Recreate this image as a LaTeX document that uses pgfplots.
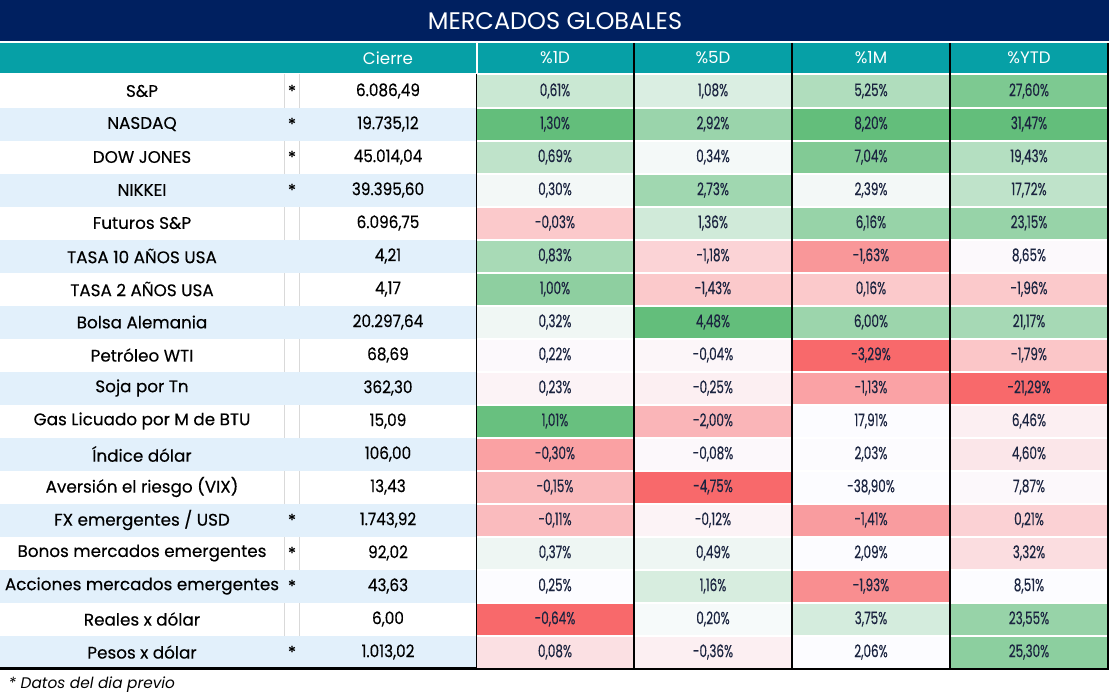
\documentclass[border=0pt]{standalone}
\usepackage{fontspec}
\setmainfont{Poppins}
\newfontfamily\pctfamily[FakeStretch=0.69, FakeBold=0.3]{Poppins}
\newfontfamily\narrowfamily[FakeStretch=0.88, FakeBold=0.3]{Poppins}
\newfontfamily\boldishfamily[FakeBold=0.3]{Poppins}
\usepackage{pgfplots}
\pgfplotsset{compat=1.18}
\usepackage{pgfplotstable}
\definecolor{navy}{HTML}{002060}
\definecolor{hdrteal}{HTML}{06A0A6}
\definecolor{rowblue}{HTML}{E2F0FB}
\definecolor{numcol}{HTML}{1B2440}
\definecolor{gridgray}{HTML}{D9D9D9}
\definecolor{hgreen}{HTML}{63BE7B}
\definecolor{hred}{HTML}{F8696B}
\definecolor{hwhite}{HTML}{FCFCFF}
\newcommand\pctfont{\pctfamily\fontsize{13}{15}\selectfont}
\newcommand\namefont{\boldishfamily\fontsize{12.6}{15}\selectfont}
\newcommand\cierrefont{\narrowfamily\fontsize{13}{15}\selectfont}
\newcommand\hdrfont{\fontsize{12.5}{14}\selectfont}
\def\stripminus-#1\relax{#1}
\pgfdeclareplotmark{hcell}{%
  \pgfmathfloatparsenumber{\cellshade}\pgfmathfloattofixed{\pgfmathresult}\let\sh=\pgfmathresult
  \ifdim\sh pt<0pt
    \edef\shabs{\expandafter\stripminus\sh\relax}%
    \colorlet{cellc}{hred!\shabs!hwhite}%
  \else
    \colorlet{cellc}{hgreen!\sh!hwhite}%
  \fi
  \pgfsetfillcolor{cellc}%
  \pgfpathrectangle{\pgfqpoint{-58.5pt}{-11.625pt}}{\pgfqpoint{117pt}{23.25pt}}\pgfusepathqfill}

% columns: name; close; %1D; shade1D; %5D; shade5D; %1M; shade1M; %YTD; shadeYTD
\pgfplotstableread[col sep=semicolon]{
name;c;d1;s1;d5;s5;m1;sm;ytd;sy
S\&P;6086.49;0.61;33;1.08;22;5.25;50;27.60;83
NASDAQ;19735.12;1.30;100;2.92;64;8.20;100;31.47;100
DOW JONES;45014.04;0.69;40;0.34;5;7.04;80;19.43;47
NIKKEI;39395.60;0.30;6;2.73;60;2.39;6;17.72;40
Futuros S\&P;6096.75;-0.03;-35;1.36;29;6.16;66;23.15;66
TASA 10 AÑOS USA;4.21;0.83;55;-1.18;-28;-1.63;-69;8.65;-2
TASA 2 AÑOS USA;4.17;1.00;72;-1.43;-35;0.16;-35;-1.96;-35
Bolsa Alemania;20297.64;0.32;8;4.48;100;6.00;63;21.17;56
Petróleo WTI;68.69;0.22;-2;-0.04;-4;-3.29;-100;-1.79;-37
Soja por Tn;362.30;0.23;-6;-0.25;-9;-1.13;-61;-21.29;-100
Gas Licuado por M de BTU;15.09;1.01;97;-2.00;-48;17.91;0;6.46;-9
Índice dólar;106.00;-0.30;-62;-0.08;-3;2.03;-1;4.60;-15
Aversión el riesgo (VIX);13.43;-0.15;-45;-4.75;-100;-38.90;0;7.87;-3
FX emergentes / USD;1743.92;-0.11;-44;-0.12;-6;-1.41;-65;0.21;-29
Bonos mercados emergentes;92.02;0.37;9;0.49;9;2.09;0;3.32;-21
Acciones mercados emergentes;43.63;0.25;0;1.16;24;-1.93;-75;8.51;0
Reales x dólar;6.00;-0.64;-100;0.20;4;3.75;26;23.55;66
Pesos x dólar;1013.02;0.08;-19;-0.36;-9;2.06;0;25.30;73
}\mkt

\pgfplotsset{
  pctcol/.style 2 args={only marks, mark=hcell,
    visualization depends on={\thisrow{#1} \as \val},
    visualization depends on={\thisrow{#2} \as \cellshade},
    nodes near coords={\pgfmathprintnumber{\val}\%},
    nodes near coords align=center,
    every node near coord/.append style={font=\pctfont, text=numcol, anchor=center, inner sep=0pt}},
}

\begin{document}
\begin{tikzpicture}
\path[use as bounding box] (0,0) rectangle (831.75pt,524.25pt);
\begin{axis}[
  at={(0,0)}, anchor=south west,
  scale only axis, width=831.75pt, height=524.25pt,
  xmin=0, xmax=1109, ymin=0, ymax=699, y dir=reverse,
  hide axis, clip=false,
  /pgf/number format/.cd, fixed, fixed zerofill, precision=2, use comma, 1000 sep={.}, assume math mode=true
]
% title and header
\fill[navy] (0,0) rectangle (1109,41);
\node[text=white, font=\fontsize{18}{20}\selectfont] at (555,21) {MERCADOS GLOBALES};
\fill[hdrteal] (0,43) rectangle (475.5,73.5);
\fill[hdrteal] (477.5,43) rectangle (1108,73.5);
\node[text=white, font=\hdrfont] at (388,58) {Cierre};
\node[text=white, font=\hdrfont] at (555,58) {\%1D};
\node[text=white, font=\hdrfont] at (713,58) {\%5D};
\node[text=white, font=\hdrfont] at (871,58) {\%1M};
\node[text=white, font=\hdrfont] at (1029,58) {\%YTD};
% grey separators and blue rows
\draw[gridgray, line width=0.75pt] (284.5,74) -- (284.5,668);
\draw[gridgray, line width=0.75pt] (299.5,74) -- (299.5,668);
\pgfplotsinvokeforeach{124,190,256,322,388,454,520,586,652}{
  \fill[rowblue] (0,#1-16.5) rectangle (476,#1+16.5);
}
% heat cells
\addplot[pctcol={d1}{s1}] table[x expr=555, y expr=91+33*\coordindex] {\mkt};
\addplot[pctcol={d5}{s5}] table[x expr=713, y expr=91+33*\coordindex] {\mkt};
\addplot[pctcol={m1}{sm}] table[x expr=871, y expr=91+33*\coordindex] {\mkt};
\addplot[pctcol={ytd}{sy}] table[x expr=1029, y expr=91+33*\coordindex] {\mkt};
% names
\addplot[draw=none, mark=none, point meta=explicit symbolic, nodes near coords,
  nodes near coords align=center,
  every node near coord/.append style={font=\namefont, text=black, anchor=center, inner sep=0pt}]
  table[x expr=142, y expr=91+33*\coordindex, meta=name] {\mkt};
% close
\addplot[draw=none, mark=none, point meta=explicit symbolic,
  nodes near coords={\pgfmathprintnumber{\pgfplotspointmeta}},
  nodes near coords align=center,
  every node near coord/.append style={font=\cierrefont, text=black, anchor=center, inner sep=0pt}]
  table[x expr=388, y expr=91+33*\coordindex, meta=c] {\mkt};
% stars
\addplot[draw=none, mark=none, nodes near coords={*},
  nodes near coords align=center,
  every node near coord/.append style={font=\namefont, text=black, anchor=center, inner sep=0pt}]
  coordinates {(292,91) (292,124) (292,157) (292,190) (292,520) (292,553) (292,586) (292,652)};
% black lines
\draw[black, line width=0.9pt] (476.5,74) -- (476.5,668);
\draw[black, line width=0.9pt] (634,43) -- (634,668);
\draw[black, line width=0.9pt] (792,43) -- (792,668);
\draw[black, line width=0.9pt] (950,43) -- (950,668);
\draw[black, line width=0.9pt] (1108,43) -- (1108,668);
\draw[black, line width=1.6pt] (0,668.5) -- (1109,668.5);
% footnote
\node[anchor=west, font=\itshape\fontsize{11.5}{13}\selectfont, text=black] at (4,685) {* Datos del dia previo};
\end{axis}
\end{tikzpicture}
\end{document}
